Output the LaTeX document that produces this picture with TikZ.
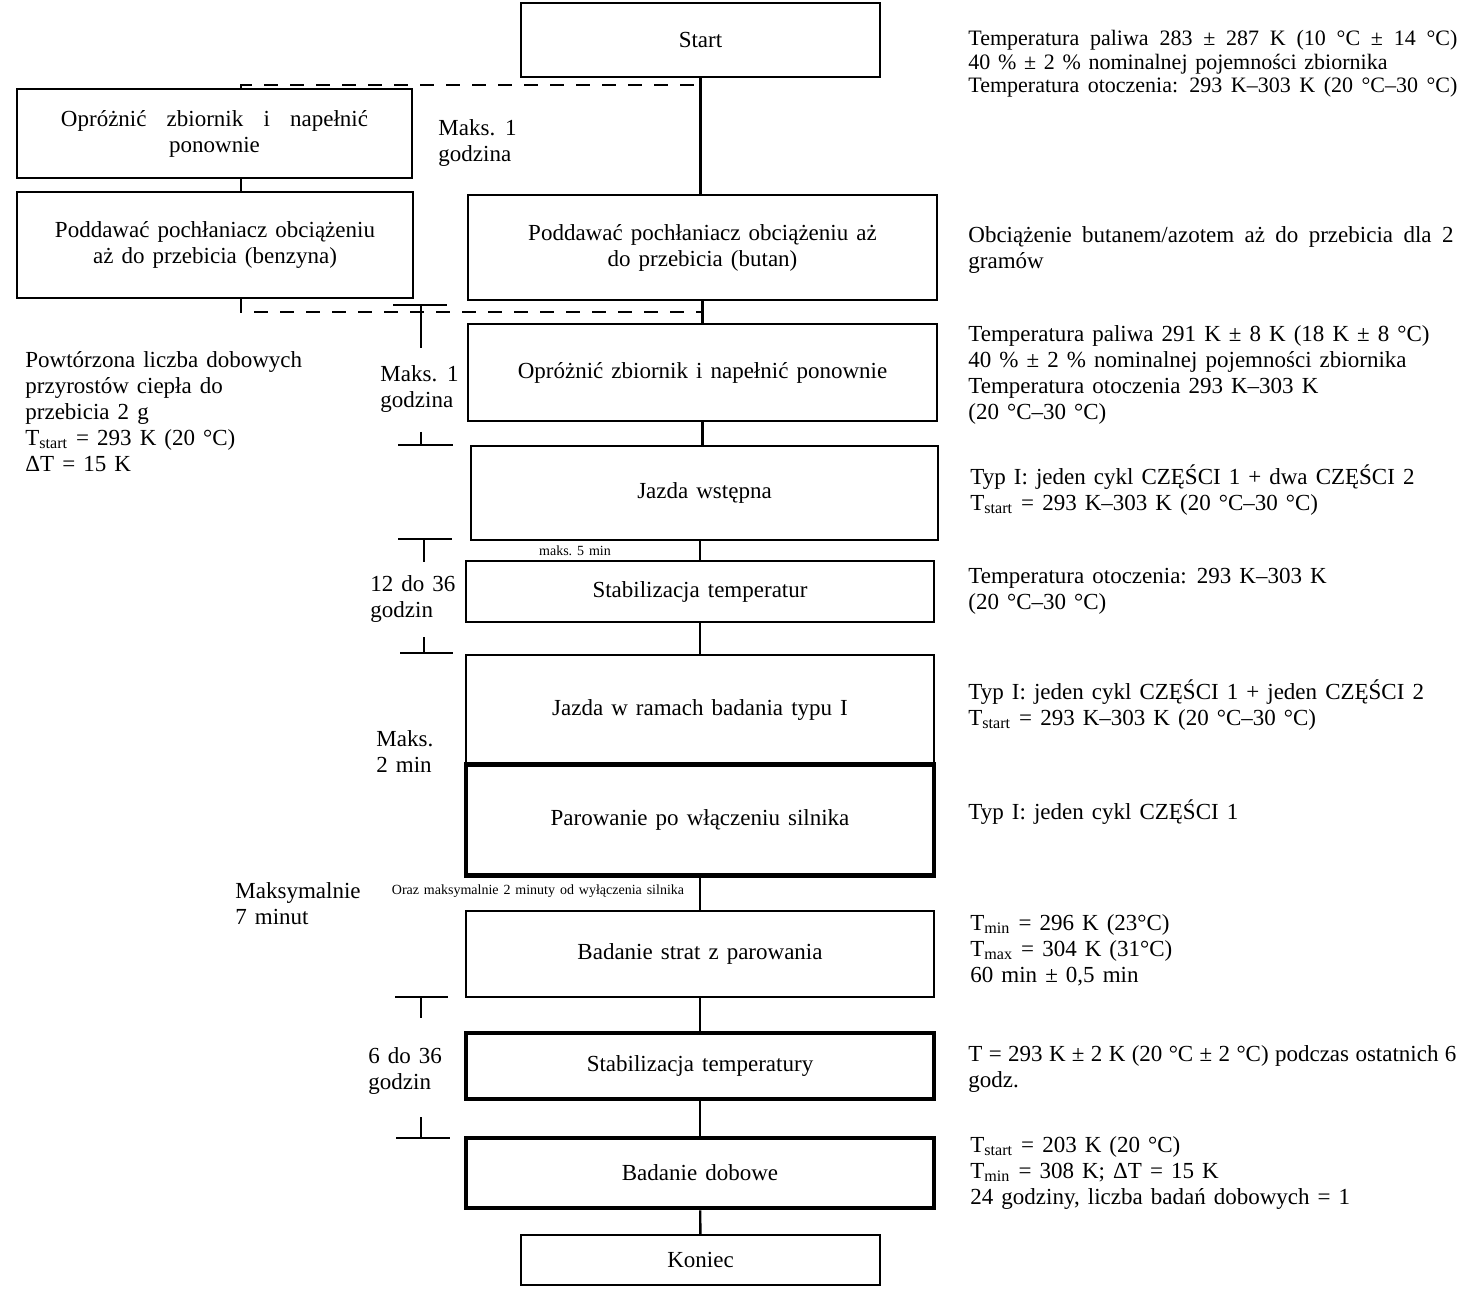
\documentclass[tikz,border=0pt]{standalone}
\usepackage{fontspec}
\setmainfont{Liberation Serif}[WordSpace=1.4]
\usetikzlibrary{positioning}

\begin{document}
\begin{tikzpicture}[x=0.5pt,y=-0.5pt,
  stage/.style={draw,line width=1.2pt,inner sep=0pt,align=center,font=\fontsize{11.5}{13}\selectfont},
  heavy/.style={stage,line width=2.4pt},
  link/.style={line width=1.2pt},
  dashlink/.style={line width=1.2pt,dash pattern=on 7pt off 6pt},
  note/.style={anchor=north west,inner sep=0pt,align=left,font=\fontsize{11.5}{13}\selectfont},
  tinynote/.style={inner sep=0pt,font=\fontsize{7}{8}\selectfont}]
  \useasboundingbox (0,0) rectangle (1461,1304);

  % main column
  \node[stage,minimum width=179.5pt,minimum height=37pt] (start) at (700.5,40) {Start};
  \node[stage,minimum width=234.5pt,minimum height=52.5pt] (loadR) at (702.5,247.5) {Poddawać pochłaniacz obciążeniu aż\\do przebicia (butan)};
  \node[stage,minimum width=234.5pt,minimum height=48.5pt] (emptyR) at (702.5,372.5) {Opróżnić zbiornik i napełnić ponownie};
  \node[stage,minimum width=233.5pt,minimum height=47pt] (drive) at (704.5,493) {Jazda wstępna};
  \node[stage,minimum width=234pt,minimum height=30.5pt] (stabA) at (700,591.5) {Stabilizacja temperatur};
  \node[stage,minimum width=234pt,minimum height=54.5pt] (typeI) at (700,709.5) {Jazda w ramach badania typu I};
  \node[heavy,minimum width=234pt,minimum height=55.5pt] (hot) at (700,820) {Parowanie po włączeniu silnika};
  \node[stage,minimum width=234pt,minimum height=43pt] (evap) at (700,954) {Badanie strat z parowania};
  \node[heavy,minimum width=234pt,minimum height=33pt] (stabB) at (700,1066) {Stabilizacja temperatury};
  \node[heavy,minimum width=234pt,minimum height=35pt] (diurnal) at (700,1173) {Badanie dobowe};
  \node[stage,minimum width=179.5pt,minimum height=25pt] (end) at (700.5,1260) {Koniec};

  % side branch (benzyna)
  \node[stage,minimum width=197.5pt,minimum height=44.5pt] (emptyL) at (214.5,133.5) {\makebox[153.5pt][s]{Opróżnić zbiornik i napełnić}\\ponownie};
  \node[stage,minimum width=198pt,minimum height=53pt] (loadL) at (215,245) {Poddawać pochłaniacz obciążeniu\\aż do przebicia (benzyna)};

  \coordinate (dTL) at (241,85);
  \coordinate (dTR) at (700,85);
  \coordinate (dBL) at (241,312);
  \coordinate (dBR) at (703,312);

  \draw[link] (start) -- (start |- loadR.north);
  \draw[link] (loadR) -- (emptyR);
  \draw[link] (emptyR.south) -- (emptyR.south |- drive.north);
  \draw[link] (stabA.north |- drive.south) -- (stabA.north);
  \draw[link] (stabA) -- (typeI);
  \draw[link] (hot) -- (evap);
  \draw[link] (evap) -- (stabB);
  \draw[link] (stabB) -- (diurnal);
  \draw[link] (diurnal) -- (end);
  \draw[link] (dTL |- emptyL.south) -- (dTL |- loadL.north);
  \draw[dashlink] (dTL |- emptyL.north) -- (dTL) -- (dTR);
  \draw[dashlink] (dTL |- loadL.south) -- (dBL) -- (dBR);

  % time brackets
  \draw[link] (393,305) -- (447,305) (421,305) -- (421,348);
  \draw[link] (421,432) -- (421,445) (398,445) -- (453,445);
  \draw[link] (398,539) -- (452,539) (424,539) -- (424,562);
  \draw[link] (424,637) -- (424,653) (400,653) -- (453,653);
  \draw[link] (395,997) -- (448,997) (421,997) -- (421,1018);
  \draw[link] (421,1117) -- (421,1138) (396,1138) -- (450,1138);

  % time labels
  \node[note] (tA) at (438,119) {Maks. 1\\godzina};
  \node[note] (tB) at (380,365) {Maks. 1\\godzina};
  \node[note] (tC) at (370,575) {12 do 36\\godzin};
  \node[note] (tD) at (376,730) {Maks.\\2 min};
  \node[note] (tE) at (235,882) {Maksymalnie\\7 minut};
  \node[note] (tF) at (368,1047) {6 do 36\\godzin};
  \node[tinynote] (tG) at (575,551) {maks.\ 5 min};
  \node[tinynote] (tH) at (538,891) {Oraz maksymalnie 2 minuty od wyłączenia silnika};

  \node[note] (cycle) at (25,351) {Powtórzona liczba dobowych\\przyrostów ciepła do\\przebicia 2 g\\T\textsubscript{start} = 293 K (20 °C)\\ΔT = 15 K};

  % conditions
  \node[note,font=\fontsize{11}{11.8}\selectfont] (cStart) at (968,30) {\makebox[244.5pt][s]{Temperatura paliwa 283 ± 287 K (10 °C ± 14 °C)}\\40 \% ± 2 \% nominalnej pojemności zbiornika\\\makebox[244.5pt][s]{Temperatura otoczenia: 293 K–303 K (20 °C–30 °C)}};
  \node[note] (cLoad) at (968,226) {\makebox[242.5pt][s]{Obciążenie butanem/azotem aż do przebicia dla 2}\\gramów};
  \node[note] (cEmpty) at (968,325) {Temperatura paliwa 291 K ± 8 K (18 K ± 8 °C)\\40 \% ± 2 \% nominalnej pojemności zbiornika\\Temperatura otoczenia 293 K–303 K\\(20 °C–30 °C)};
  \node[note] (cDrive) at (970,464) {Typ I: jeden cykl CZĘŚCI 1 + dwa CZĘŚCI 2\\T\textsubscript{start} = 293 K–303 K (20 °C–30 °C)};
  \node[note] (cStabA) at (968,568) {Temperatura otoczenia: 293 K–303 K\\(20 °C–30 °C)};
  \node[note] (cTypeI) at (968,679) {Typ I: jeden cykl CZĘŚCI 1 + jeden CZĘŚCI 2\\T\textsubscript{start} = 293 K–303 K (20 °C–30 °C)};
  \node[note] (cHot) at (968,799) {Typ I: jeden cykl CZĘŚCI 1};
  \node[note] (cEvap) at (970,914) {T\textsubscript{min} = 296 K (23°C)\\T\textsubscript{max} = 304 K (31°C)\\60 min ± 0,5 min};
  \node[note] (cStabB) at (968,1045) {\makebox[244pt][s]{T = 293 K ± 2 K (20 °C ± 2 °C) podczas ostatnich 6}\\godz.};
  \node[note] (cDiurnal) at (970,1136) {T\textsubscript{start} = 203 K (20 °C)\\T\textsubscript{min} = 308 K; ΔT = 15 K\\24 godziny, liczba badań dobowych = 1};
\end{tikzpicture}
\end{document}
